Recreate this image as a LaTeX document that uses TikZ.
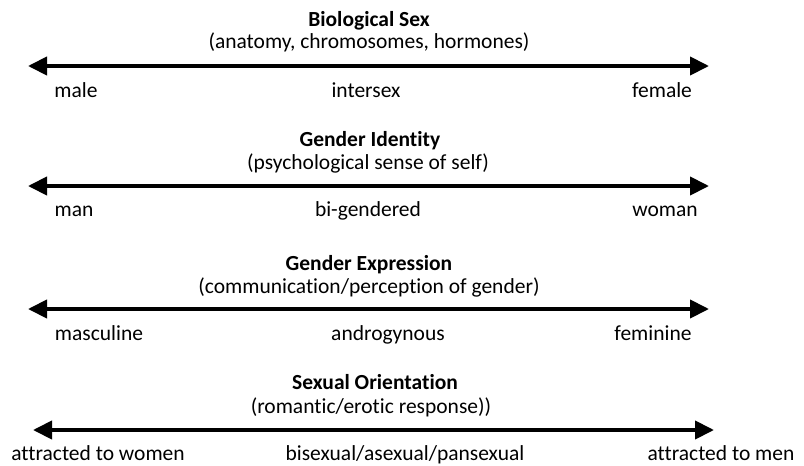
\documentclass[tikz,border=0pt]{standalone}
\usepackage{fontspec}
\setmainfont[Ligatures={NoCommon}]{Carlito}
\usetikzlibrary{arrows.meta}
\begin{document}
\begin{tikzpicture}[x=1pt,y=-1pt,
  heading/.style={anchor=base,font=\fontsize{21.5}{24}\selectfont\bfseries,inner sep=0pt},
  subhead/.style={anchor=base,font=\fontsize{21.5}{24}\selectfont,inner sep=0pt},
  endlabel/.style={anchor=base,font=\fontsize{21.5}{24}\selectfont,inner sep=0pt},
  scale arrow/.style={line width=4pt,{Triangle[length=19pt,width=18pt]}-{Triangle[length=19pt,width=18pt]}}]
\useasboundingbox (0,0) rectangle (804,466);

% Biological sex
\node[heading] (t1) at (369,26) {Biological Sex};
\node[subhead] (s1) at (369,48) {(anatomy, chromosomes, hormones)};
\coordinate (l1) at (28,66);
\coordinate (r1) at (709,66);
\draw[scale arrow] (l1) -- (r1);
\node[endlabel] (a1) at (76,97) {male};
\node[endlabel] (b1) at (366,97) {intersex};
\node[endlabel] (c1) at (662,97) {female};

% Gender identity
\node[heading] (t2) at (370,146) {Gender Identity};
\node[subhead] (s2) at (368,169) {(psychological sense of self)};
\coordinate (l2) at (28,186);
\coordinate (r2) at (709,186);
\draw[scale arrow] (l2) -- (r2);
\node[endlabel] (a2) at (74,216) {man};
\node[endlabel] (b2) at (368,216) {bi-gendered};
\node[endlabel] (c2) at (665,216) {woman};

% Gender expression
\node[heading] (t3) at (369,270) {Gender Expression};
\node[subhead] (s3) at (369,293) {(communication/perception of gender)};
\coordinate (l3) at (28,309);
\coordinate (r3) at (709,309);
\draw[scale arrow] (l3) -- (r3);
\node[endlabel] (a3) at (99,340) {masculine};
\node[endlabel] (b3) at (388,340) {androgynous};
\node[endlabel] (c3) at (653,340) {feminine};

% Sexual orientation
\node[heading] (t4) at (375,389) {Sexual Orientation};
\node[subhead] (s4) at (371,413) {(romantic/erotic response))};
\coordinate (l4) at (33,430);
\coordinate (r4) at (714,430);
\draw[scale arrow] (l4) -- (r4);
\node[endlabel] (a4) at (98,460) {attracted to women};
\node[endlabel] (b4) at (405,460) {bisexual/asexual/pansexual};
\node[endlabel] (c4) at (721,460) {attracted to men};
\end{tikzpicture}
\end{document}
